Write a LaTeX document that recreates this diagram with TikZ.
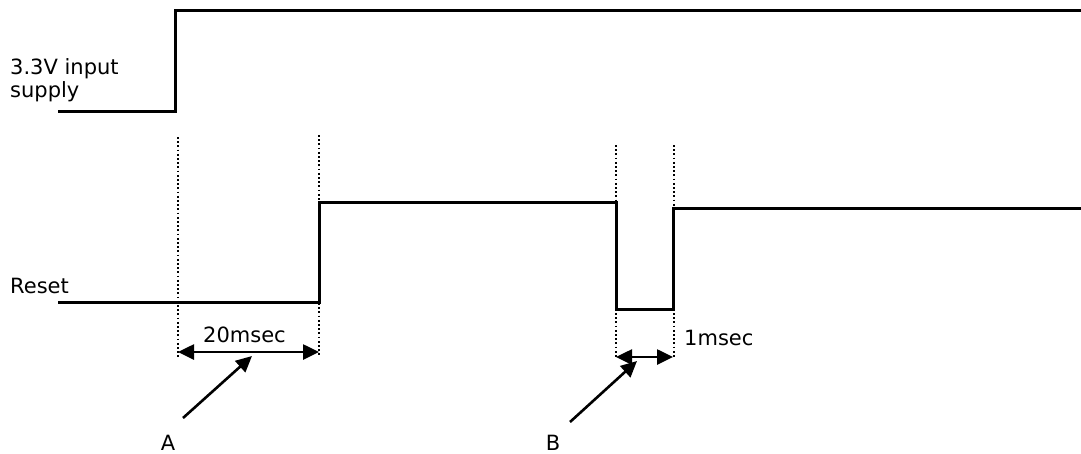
\documentclass[tikz,border=0pt]{standalone}
\usepackage{fontspec}
\setmainfont{DejaVu Sans}
\usetikzlibrary{arrows.meta}
\begin{document}
\begin{tikzpicture}[x=1pt,y=-1pt,
  sig/.style={line width=3pt,line join=miter},
  guide/.style={line width=2pt,dash pattern=on 1.8pt off 2.4pt},
  dim/.style={line width=2.6pt,{Triangle[length=16pt,width=15pt]}-{Triangle[length=16pt,width=15pt]}},
  pointer/.style={line width=2.6pt,-{Triangle[length=16pt,width=15pt]}},
  lbl/.style={inner sep=0pt,anchor=base west,font=\fontsize{21}{23}\selectfont}]
\useasboundingbox (0,0) rectangle (1081,453);
% labels
\node[lbl] (sup1) at (10,74) {3.3V input};
\node[lbl] (sup2) at (10,97) {supply};
\node[lbl] (rst) at (10,293) {Reset};
\node[lbl] (t20) at (203,342) {20msec};
\node[lbl] (t1) at (684,345) {1msec};
\node[lbl,anchor=base] (la) at (168,450) {A};
\node[lbl,anchor=base] (lb) at (553,450) {B};
% supply waveform
\draw[sig] (58,111) -- (175,111) -- (175,10) -- (1081,10);
% reset waveform
\draw[sig] (58,302) -- (319,302) -- (319,202) -- (616,202) -- (616,309) -- (673,309) -- (673,208) -- (1081,208);
% guides
\coordinate (g1t) at (178,137); \coordinate (g1b) at (178,357);
\coordinate (g2t) at (319,135); \coordinate (g2b) at (319,356);
\coordinate (g3t) at (616,145); \coordinate (g3b) at (616,358);
\coordinate (g4t) at (674,145); \coordinate (g4b) at (674,358);
\draw[guide] (g1t) -- (g1b);
\draw[guide] (g2t) -- (g2b);
\draw[guide] (g3t) -- (g3b);
\draw[guide] (g4t) -- (g4b);
% dimension arrows
\coordinate (d1a) at (178,352); \coordinate (d1b) at (319,352);
\coordinate (d2a) at (616,357); \coordinate (d2b) at (673,357);
\draw[dim] (d1a) -- (d1b);
\draw[dim] (d2a) -- (d2b);
% pointers
\coordinate (pa0) at (183,418); \coordinate (pa1) at (252,356);
\coordinate (pb0) at (570,422); \coordinate (pb1) at (637,361);
\draw[pointer] (pa0) -- (pa1);
\draw[pointer] (pb0) -- (pb1);
\end{tikzpicture}
\end{document}
